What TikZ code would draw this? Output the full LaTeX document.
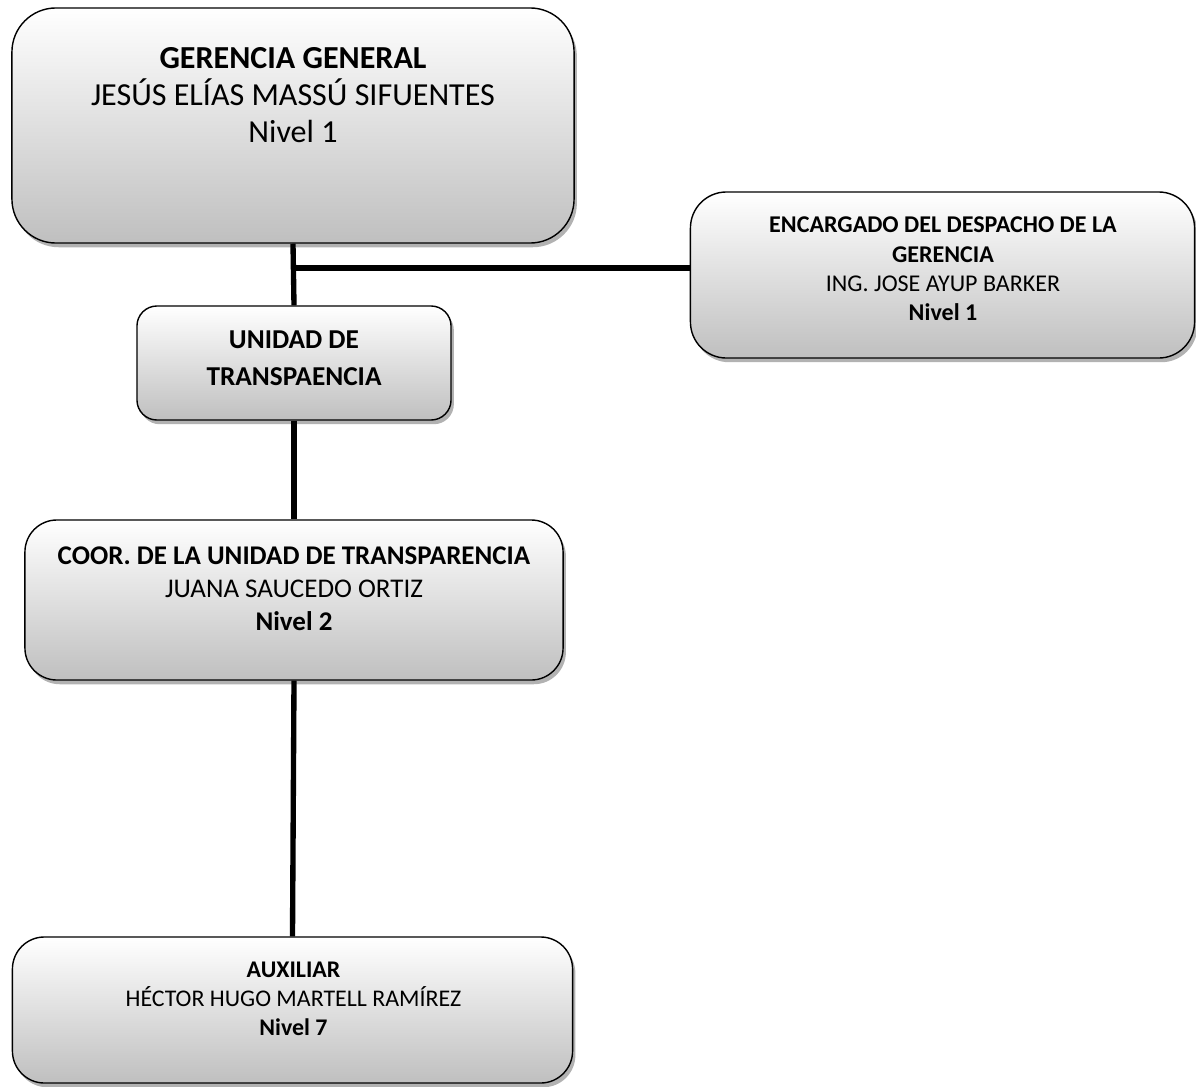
\documentclass[tikz,border=0pt]{standalone}
\usepackage{fontspec}
\setmainfont{Carlito}
\usetikzlibrary{shadows}
\tikzset{
    box/.style={draw=black,line width=1pt,top color=white,bottom color=gray!50,
        drop shadow={shadow xshift=2pt,shadow yshift=-3pt,opacity=.3,fill=black}},
    txt/.style={align=center,inner sep=0pt},
    link/.style={line width=3.8pt}
}
\begin{document}
\begin{tikzpicture}[x=0.025cm,y=-0.025cm]
            \useasboundingbox (0,0) rectangle (1196,1086);
            \node[box,rounded corners=1.1cm,minimum width=14.05cm,minimum height=5.875cm] (gg) at (293,125.5) {};
            \node[box,rounded corners=0.9cm,minimum width=12.6cm,minimum height=4.15cm] (enc) at (942.5,275) {};
            \node[box,rounded corners=0.5cm,minimum width=7.85cm,minimum height=2.85cm] (ut) at (294,363) {};
            \node[box,rounded corners=0.8cm,minimum width=13.45cm,minimum height=4cm] (coor) at (294,600) {};
            \node[box,rounded corners=0.8cm,minimum width=14cm,minimum height=3.65cm] (aux) at (292.5,1010) {};
            \coordinate (j) at (293,268);
            \draw[link] (gg.south) -- (ut.north);
            \draw[link] (j) -- (j -| enc.west);
            \draw[link] (ut.south) -- (coor.south |- coor.north);
            \draw[link] (coor.south) -- (aux.north);
            \node[txt,font=\fontsize{22.8}{26.5}\selectfont] (ggtxt) at (293,95) {\textbf{GERENCIA GENERAL}\\JESÚS ELÍAS MASSÚ SIFUENTES\\Nivel 1};
            \node[txt,font=\fontsize{17.1}{20.8}\selectfont] (enctxt) at (943,269) {\textbf{ENCARGADO DEL DESPACHO DE LA}\\\textbf{GERENCIA}\\ING. JOSE AYUP BARKER\\\textbf{Nivel 1}};
            \node[txt,font=\fontsize{19.4}{26.5}\selectfont\bfseries] (uttxt) at (294,358.5) {UNIDAD DE\\TRANSPAENCIA};
            \node[txt,font=\fontsize{19.2}{23.4}\selectfont] (coortxt) at (294,588.5) {\textbf{COOR. DE LA UNIDAD DE TRANSPARENCIA}\\JUANA SAUCEDO ORTIZ\\\textbf{Nivel 2}};
            \node[txt,font=\fontsize{17}{20.6}\selectfont] (auxtxt) at (293.5,999) {\textbf{AUXILIAR}\\HÉCTOR HUGO MARTELL RAMÍREZ\\\textbf{Nivel 7}};
        \end{tikzpicture}
\end{document}
